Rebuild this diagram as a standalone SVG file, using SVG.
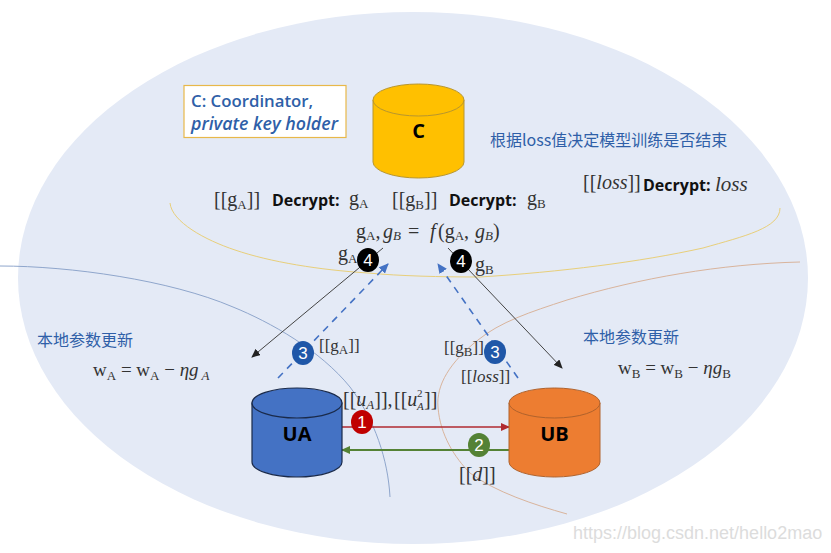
<svg xmlns="http://www.w3.org/2000/svg" width="831" height="553" viewBox="0 0 831 553">
<style>
.m{font-family:"Liberation Serif",serif;fill:#333;font-size:20px}
.w{font-size:19px}
.t{font-size:17px}
.s{font-size:13px}
.i{font-style:italic}
.d{font-family:"Open Sans","Liberation Sans",sans-serif;font-weight:700;fill:#111;font-size:16px}
.z{font-family:"Noto Sans CJK SC",sans-serif;fill:#2f5fa8;font-size:16px}
.n{font-family:"Open Sans","Liberation Sans",sans-serif;font-weight:700;fill:#000;font-size:20px;text-anchor:middle}
.b{font-family:"Liberation Sans",sans-serif;fill:#fff;font-size:17px;text-anchor:middle}
.arc{fill:none;stroke-width:1}
</style>
<defs>
<marker id="ak" markerWidth="9" markerHeight="8" refX="8" refY="4" orient="auto" markerUnits="userSpaceOnUse"><path d="M0 0L9 4L0 8Z" fill="#222"/></marker>
<marker id="ab" markerWidth="10" markerHeight="9" refX="9" refY="4.500" orient="auto" markerUnits="userSpaceOnUse"><path d="M0 0L10 4.500L0 9Z" fill="#4472c4"/></marker>
<marker id="ar" markerWidth="9" markerHeight="8" refX="8" refY="4" orient="auto" markerUnits="userSpaceOnUse"><path d="M0 0L9 4L0 8Z" fill="#b02a30"/></marker>
<marker id="ag" markerWidth="9" markerHeight="8" refX="8" refY="4" orient="auto" markerUnits="userSpaceOnUse"><path d="M0 0L9 4L0 8Z" fill="#548235"/></marker>
</defs>
<rect width="831" height="553" fill="#fff"/>
<ellipse id="bg" cx="413" cy="278" rx="395" ry="266" fill="#e4eaf6"/>
<path class="arc" stroke="#e8cf7a" d="M170 203C172 222 205 240 235 250C270 262 320 270 368 273C400 276 440 277 480 277C560 272 640 262 703 248C745 236 780 228 780 208"/>
<path class="arc" stroke="#8fa6cc" d="M0 266C70 266 170 280 233 307C270 322 320 350 350 387C375 420 388 460 390 497"/>
<path class="arc" stroke="#d9b49c" d="M800 262C720 264 640 278 567 300C530 312 500 322 478 340C450 362 436 385 438 407C440 435 455 458 470 473C495 492 535 505 567 514"/>
<g id="connectors" fill="none">
<path d="M383 248L252 357" stroke="#444" marker-end="url(#ak)"/>
<path d="M448 248L562 368" stroke="#444" marker-end="url(#ak)"/>
<path d="M278 378L388 264" stroke="#4472c4" stroke-width="1.600" stroke-dasharray="7 6" marker-end="url(#ab)"/>
<path d="M518 378L438 264" stroke="#4472c4" stroke-width="1.600" stroke-dasharray="7 6" marker-end="url(#ab)"/>
<path d="M342 427L509 427" stroke="#b02a30" stroke-width="1.500" marker-end="url(#ar)"/>
<path d="M509 450L342 450" stroke="#548235" stroke-width="2" marker-end="url(#ag)"/>
</g>
<g id="legend"><rect x="184" y="85.500" width="162" height="52" fill="#fff" stroke="#e8b84a" stroke-width="1.200"/>
<text x="191" y="107" font-family="'Open Sans','Liberation Sans',sans-serif" font-weight="600" font-size="16.800" fill="#2f5fa8">C: Coordinator,</text>
<text x="191" y="130" font-family="'Open Sans','Liberation Sans',sans-serif" font-weight="600" font-style="italic" font-size="17.800" fill="#2f5fa8">private key holder</text></g>
<g id="C"><path d="M373 100V162A45.500 16 0 0 0 464 162V100Z" fill="#ffc000" stroke="#b8962e"/><ellipse cx="418.500" cy="100" rx="45.500" ry="16" fill="#ffc000" stroke="#b8962e"/><text class="n" x="418.500" y="138">C</text></g>
<g id="UA"><path d="M252 403V462A45 15 0 0 0 342 462V403Z" fill="#4472c4" stroke="#1a2a4a" stroke-width="1.200"/><ellipse cx="297" cy="403" rx="45" ry="15" fill="#4472c4" stroke="#1a2a4a" stroke-width="1.200"/><text class="n" x="297" y="441">UA</text></g>
<g id="UB"><path d="M509 403V462A45.500 15 0 0 0 600 462V403Z" fill="#ed7d31" stroke="#b0622c"/><ellipse cx="554.500" cy="403" rx="45.500" ry="15" fill="#ed7d31" stroke="#b0622c"/><text class="n" x="554.500" y="441">UB</text></g>
<g id="b1"><ellipse cx="362" cy="422" rx="11" ry="12" fill="#c00000"/><text class="b" x="362" y="428">1</text></g>
<g id="b2"><ellipse cx="479" cy="445" rx="11" ry="12" fill="#548235"/><text class="b" x="479" y="451">2</text></g>
<g id="b3a"><ellipse cx="303" cy="353" rx="11" ry="12" fill="#1f57a8"/><text class="b" x="303" y="359">3</text></g>
<g id="b3b"><ellipse cx="495" cy="352" rx="11" ry="12" fill="#1f57a8"/><text class="b" x="495" y="358">3</text></g>
<g id="b4a"><ellipse cx="368" cy="260" rx="11" ry="12" fill="#000"/><text class="b" x="368" y="266">4</text></g>
<g id="b4b"><ellipse cx="461" cy="261" rx="11" ry="12" fill="#000"/><text class="b" x="461" y="267">4</text></g>
<g id="labels">
<text class="m" x="214" y="206">[[g<tspan class="s" dy="3">A</tspan><tspan dy="-3">]]</tspan></text>
<text class="d" x="272" y="206">Decrypt:</text>
<text class="m" x="349" y="205">g<tspan class="s" dy="3">A</tspan></text>
<text class="m" x="392" y="206">[[g<tspan class="s" dy="3">B</tspan><tspan dy="-3">]]</tspan></text>
<text class="d" x="449" y="206">Decrypt:</text>
<text class="m" x="527" y="205">g<tspan class="s" dy="3">B</tspan></text>
<text class="m" y="238"><tspan x="356">g</tspan><tspan class="s" dy="2">A</tspan><tspan dy="-2">,</tspan><tspan class="i" x="383">g</tspan><tspan class="s i" dy="2">B</tspan><tspan dy="-2" x="408">=</tspan><tspan class="i" x="430">f</tspan><tspan x="438">(g</tspan><tspan class="s" dy="2">A</tspan><tspan dy="-2">,</tspan><tspan class="i" x="475">g</tspan><tspan class="s i" dy="2">B</tspan><tspan dy="-2">)</tspan></text>
<text class="m" x="338" y="260">g<tspan class="s" dy="3">A</tspan></text>
<text class="m" x="475" y="271">g<tspan class="s" dy="3">B</tspan></text>
<text class="z" x="490" y="146">根据loss值决定模型训练是否结束</text>
<text class="m" x="583" y="189">[[<tspan class="i">loss</tspan>]]</text>
<text class="d" x="643" y="191">Decrypt:</text>
<text class="m i" x="715" y="191" style="font-size:21px">loss</text>
<text class="z" x="37" y="346">本地参数更新</text>
<text class="z" x="583" y="343">本地参数更新</text>
<text class="m w" x="93" y="376">w<tspan class="s" dy="4">A</tspan><tspan dy="-4"> = w</tspan><tspan class="s" dy="4">A</tspan><tspan dy="-4"> − </tspan><tspan class="i">ηg</tspan><tspan class="s i" dy="4"> A</tspan></text>
<text class="m w" x="618" y="374">w<tspan class="s" dy="4">B</tspan><tspan dy="-4"> = w</tspan><tspan class="s" dy="4">B</tspan><tspan dy="-4"> − </tspan><tspan class="i">ηg</tspan><tspan class="s" dy="4">B</tspan></text>
<text class="m t" x="319" y="351">[[g<tspan class="s" dy="3">A</tspan><tspan dy="-3">]]</tspan></text>
<text class="m t" x="444" y="353">[[g<tspan class="s" dy="3">B</tspan><tspan dy="-3">]]</tspan></text>
<text class="m t" x="461" y="382">[[<tspan class="i">loss</tspan>]]</text>
<text class="m" x="343" y="406">[[<tspan class="i">u</tspan><tspan class="s i" dy="3">A</tspan><tspan dy="-3">]],</tspan></text>
<text class="m" x="394" y="406">[[<tspan class="i">u</tspan></text>
<text class="s i m" x="417" y="410" style="font-size:11px">A</text>
<text class="s m" x="417" y="397" style="font-size:11px">2</text>
<text class="m" x="424" y="406">]]</text>
<text class="m" x="459" y="481">[[<tspan class="i">d</tspan>]]</text>
<text x="573" y="539" font-family="'Liberation Sans',sans-serif" font-size="18" fill="#dcdcdc">https://blog.csdn.net/hello2mao</text>
</g>
</svg>
